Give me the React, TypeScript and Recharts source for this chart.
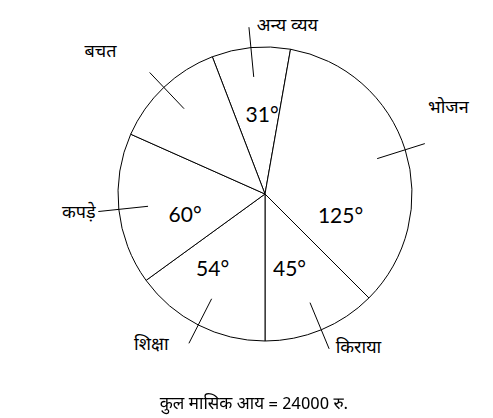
import React from 'react';
import { PieChart, Pie, Cell } from 'recharts';

const categories = ['अन्य व्यय', 'भोजन', 'किराया', 'शिक्षा', 'कपड़े', 'बचत'];
const degrees = [31, 125, 45, 54, 60, 45];
const angleLabels = ['31°', '125°', '45°', '54°', '60°', ''];
const caption = 'कुल मासिक आय = 24000 रु.';

const data = categories.map((name, i) => ({ name, value: degrees[i], tag: angleLabels[i] }));

// label placement tweaks (dx, dy) — styling only
const nameNudge = [[9, 11], [-8, -32], [2, -11], [-15, -8], [9, 1], [-25, -11]];
const tagNudge = [[5, 1], [-3, 45], [-7, -3], [-15, 0], [2, 11], [0, 0]];

const RAD = Math.PI / 180;
const DEV = "'Noto Sans Devanagari', 'Lohit Devanagari', 'Mangal', 'Noto Sans', sans-serif";
const LAT = "Lato, 'Open Sans', sans-serif";

function renderLabel(props: any) {
  const { cx, cy, midAngle, outerRadius, index } = props;
  const c = Math.cos(-midAngle * RAD);
  const s = Math.sin(-midAngle * RAD);
  const r1 = outerRadius * 0.8;
  const r2 = outerRadius * 1.14;
  const x1 = cx + r1 * c, y1 = cy + r1 * s;
  const x2 = cx + r2 * c, y2 = cy + r2 * s;
  const rt = outerRadius * 1.22;
  const tx = cx + rt * c + nameNudge[index][0];
  const ty = cy + rt * s + nameNudge[index][1];
  const anchor = c < -0.3 ? 'end' : 'start';
  const ri = outerRadius * 0.56;
  const ix = cx + ri * c + tagNudge[index][0];
  const iy = cy + ri * s + tagNudge[index][1];
  const tag = data[index].tag;
  return (
    <g>
      <line x1={x1} y1={y1} x2={x2} y2={y2} stroke="#000" strokeWidth={1} />
      <text x={tx} y={ty} textAnchor={anchor} dominantBaseline="central" fontFamily={DEV} fontSize={18} fill="#000">
        {data[index].name}
      </text>
      {tag ? (
        <text x={ix} y={iy} textAnchor="middle" dominantBaseline="central" fontFamily={LAT} fontSize={21} fill="#000">
          {tag}
        </text>
      ) : null}
    </g>
  );
}

export default function App() {
  return (
    <div style={{ position: 'fixed', left: 0, top: 0, width: 493, height: 418, background: '#fff' }}>
      <PieChart width={493} height={418} margin={{ top: 0, right: 0, bottom: 0, left: 0 }}>
        <Pie
          data={data}
          dataKey="value"
          nameKey="name"
          cx={265}
          cy={194}
          outerRadius={147}
          startAngle={111}
          endAngle={-249}
          isAnimationActive={false}
          label={renderLabel}
          labelLine={false}
          stroke="#000"
          strokeWidth={1}
        >
          {data.map((d, i) => (
            <Cell key={i} fill="#fff" stroke="#000" strokeWidth={1} />
          ))}
        </Pie>
      </PieChart>
      <div
        style={{
          position: 'absolute',
          left: 0,
          width: 508,
          top: 394,
          textAlign: 'center',
          fontFamily: "'Noto Sans Devanagari', 'Liberation Sans', Arial, sans-serif",
          fontSize: 17,
          color: '#000',
          whiteSpace: 'pre',
        }}
      >
        {caption}
      </div>
    </div>
  );
}
